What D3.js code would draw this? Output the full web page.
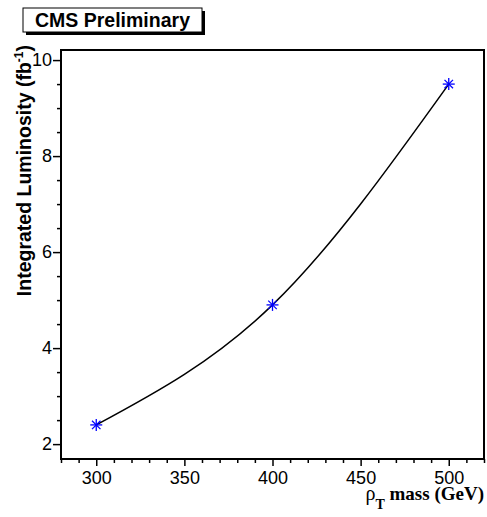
<!DOCTYPE html>
<html>
<head>
<meta charset="utf-8">
<script src="https://cdn.jsdelivr.net/npm/d3@7"></script>
<style>
  html, body { margin: 0; padding: 0; background: #fff; }
  svg { display: block; }
</style>
</head>
<body>
<svg id="chart" width="487" height="517"></svg>
<script>
// ---- data ----
const massValues = [300, 400, 500];
const lumiValues = [2.4, 4.9, 9.5];
const xTickValues = [300, 350, 400, 450, 500];
const yTickValues = [2, 4, 6, 8, 10];
const titleText = "CMS Preliminary";
const yLabelText = "Integrated Luminosity (fb";
const xLabelMain = " mass (GeV)";

const svg = d3.select("#chart");
const W = 487, H = 517;
const plot = { left: 61, top: 50, right: 484, bottom: 459 };

const x = d3.scaleLinear().domain([280, 520]).range([plot.left, plot.right]);
const y = d3.scaleLinear().domain([1.69, 10.21]).range([plot.bottom, plot.top]);

svg.append("rect").attr("width", W).attr("height", H).attr("fill", "#fff");

// Frame
svg.append("rect")
  .attr("x", plot.left).attr("y", plot.top)
  .attr("width", plot.right - plot.left).attr("height", plot.bottom - plot.top)
  .attr("fill", "#fff").attr("stroke", "#000").attr("stroke-width", 2);

const tickFont = "'Liberation Sans', Arial, Helvetica, sans-serif";

// X axis
const xMinor = d3.range(280, 521, 10).filter(v => v % 50 !== 0);
const xAxis = d3.axisBottom(x).tickValues(xTickValues).tickSize(7).tickPadding(5).tickFormat(d3.format("d"));
const xAxisMinor = d3.axisBottom(x).tickValues(xMinor).tickSize(4).tickFormat("");
const gxm = svg.append("g").attr("transform", `translate(0,${plot.bottom})`).call(xAxisMinor);
const gx = svg.append("g").attr("transform", `translate(0,${plot.bottom})`).call(xAxis);
[gx, gxm].forEach(g => {
  g.select(".domain").remove();
  g.selectAll(".tick line").attr("stroke", "#000").attr("stroke-width", 1.5);
});
gx.selectAll(".tick text").attr("font-family", tickFont).attr("font-size", 18).attr("fill", "#000");

// Y axis
const yMinor = d3.range(2, 10.01, 0.5).filter(v => v % 2 !== 0);
const yAxis = d3.axisLeft(y).tickValues(yTickValues).tickSize(8).tickPadding(1).tickFormat(d3.format("d"));
const yAxisMinor = d3.axisLeft(y).tickValues(yMinor).tickSize(4).tickFormat("");
const gym = svg.append("g").attr("transform", `translate(${plot.left},0)`).call(yAxisMinor);
const gy = svg.append("g").attr("transform", `translate(${plot.left},0)`).call(yAxis);
[gy, gym].forEach(g => {
  g.select(".domain").remove();
  g.selectAll(".tick line").attr("stroke", "#000").attr("stroke-width", 1.5);
});
gy.selectAll(".tick text").attr("font-family", tickFont).attr("font-size", 18).attr("fill", "#000");

// Curve through the points
const pts = massValues.map((m, i) => [m, lumiValues[i]]);
const line = d3.line().x(d => x(d[0])).y(d => y(d[1])).curve(d3.curveNatural);
svg.append("path").datum(pts).attr("d", line)
  .attr("fill", "none").attr("stroke", "#000").attr("stroke-width", 1.5);

// Asterisk markers
const r = 6;
const mk = svg.append("g").attr("stroke", "#0000ff").attr("stroke-width", 1.3);
pts.forEach(d => {
  const cx = x(d[0]), cy = y(d[1]);
  const g = mk.append("g").attr("transform", `translate(${cx},${cy})`);
  [0, 45, 90, 135].forEach(a => {
    const rad = a * Math.PI / 180;
    g.append("line")
      .attr("x1", -r * Math.cos(rad)).attr("y1", -r * Math.sin(rad))
      .attr("x2", r * Math.cos(rad)).attr("y2", r * Math.sin(rad));
  });
});

// Title box with shadow
const tb = { x: 23, y: 8, w: 179, h: 24 };
svg.append("rect").attr("x", tb.x + 3).attr("y", tb.y + 3).attr("width", tb.w).attr("height", tb.h).attr("fill", "#000");
svg.append("rect").attr("x", tb.x).attr("y", tb.y).attr("width", tb.w).attr("height", tb.h)
  .attr("fill", "#fff").attr("stroke", "#000").attr("stroke-width", 1);
svg.append("text").attr("x", tb.x + tb.w / 2).attr("y", tb.y + 19)
  .attr("text-anchor", "middle").attr("font-family", tickFont).attr("font-weight", "bold")
  .attr("font-size", 19.5).attr("fill", "#000").text(titleText);

// Y label
const yl = svg.append("text")
  .attr("transform", `translate(31,45) rotate(-90)`)
  .attr("text-anchor", "end").attr("font-family", tickFont).attr("font-weight", "bold")
  .attr("font-size", 19.5).attr("fill", "#000");
yl.append("tspan").text(yLabelText);
yl.append("tspan").attr("font-size", 12).attr("dy", -8).text("-1");
yl.append("tspan").attr("dy", 8).text(")");

// X label
const serif = "'Liberation Serif', 'Times New Roman', serif";
const xl = svg.append("text").attr("x", 484).attr("y", 500)
  .attr("text-anchor", "end").attr("font-family", serif).attr("font-weight", "bold")
  .attr("font-size", 19).attr("fill", "#000");
xl.append("tspan").attr("font-weight", "normal").attr("font-size", 20).text("ρ");
xl.append("tspan").attr("font-size", 14).attr("dy", 9).text("T");
xl.append("tspan").attr("dy", -9).text(xLabelMain);
</script>
</body>
</html>
